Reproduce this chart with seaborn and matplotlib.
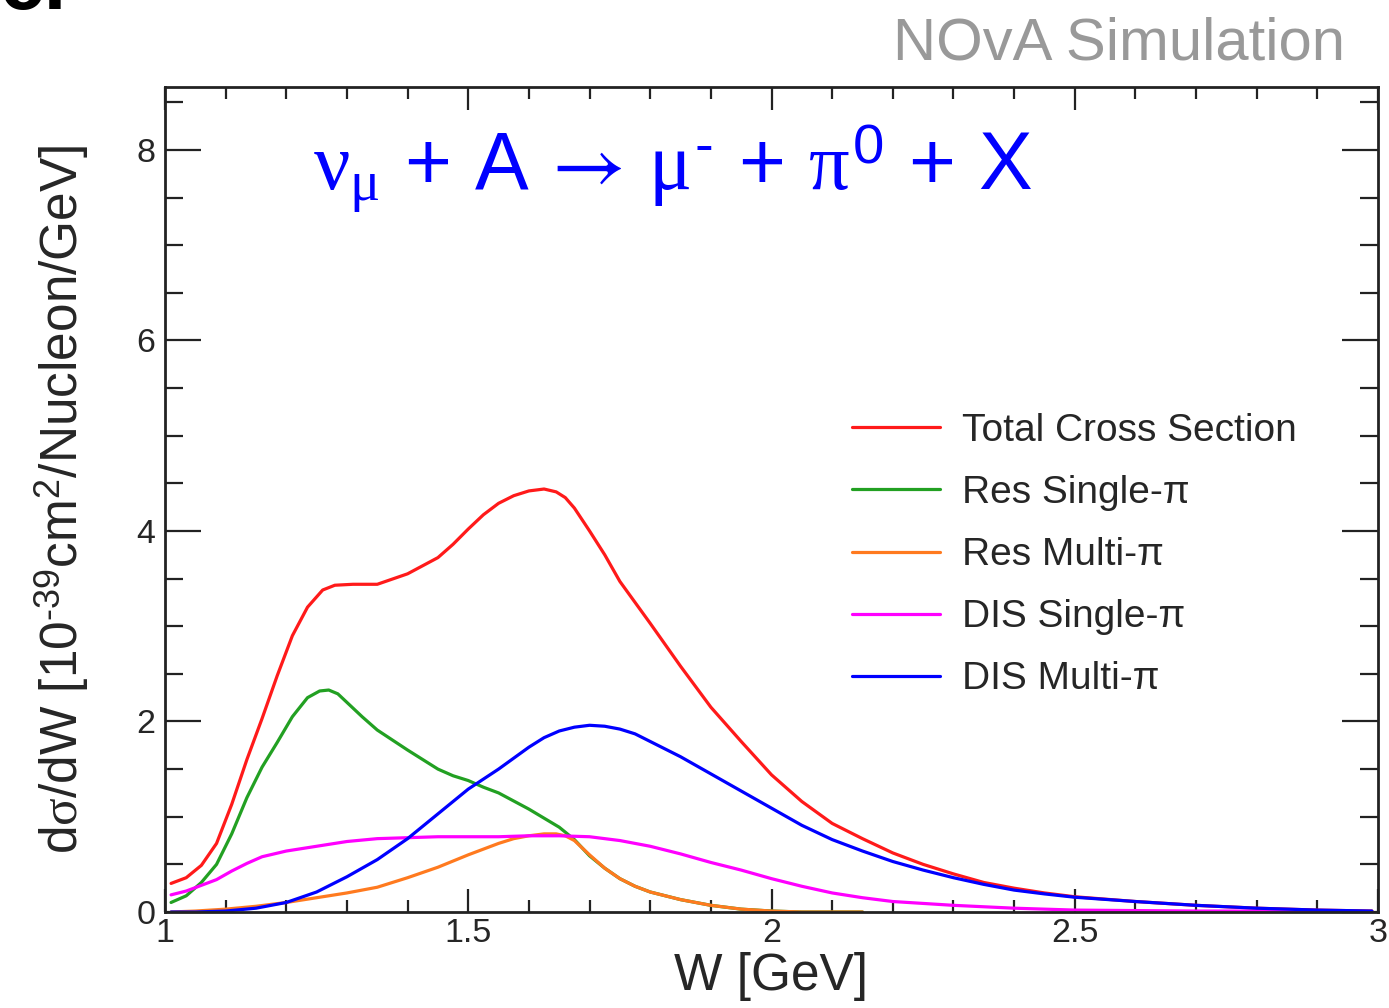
import matplotlib
matplotlib.use("Agg")
import matplotlib.pyplot as plt
import seaborn as sns
import pandas as pd
from matplotlib.ticker import MultipleLocator, FuncFormatter

# ---------------- data ----------------
W_TOTAL = [1.01, 1.035, 1.06, 1.085, 1.11, 1.135, 1.16, 1.185, 1.21, 1.235, 1.26, 1.28, 1.31,
           1.35, 1.40, 1.45, 1.475, 1.50, 1.525, 1.55, 1.575, 1.60, 1.625, 1.645, 1.66, 1.675,
           1.70, 1.725, 1.75, 1.80, 1.85, 1.90, 1.95, 2.00, 2.05, 2.10, 2.15, 2.20, 2.25,
           2.30, 2.35, 2.40, 2.45, 2.50, 2.60, 2.70, 2.80, 2.90, 2.99]
total = [0.30, 0.36, 0.49, 0.72, 1.13, 1.60, 2.03, 2.48, 2.90, 3.20, 3.38, 3.43, 3.44,
         3.44, 3.55, 3.72, 3.86, 4.02, 4.17, 4.29, 4.37, 4.42, 4.44, 4.41, 4.35, 4.24,
         4.00, 3.75, 3.47, 3.03, 2.58, 2.15, 1.79, 1.44, 1.16, 0.93, 0.77, 0.62, 0.50,
         0.40, 0.31, 0.25, 0.20, 0.16, 0.11, 0.07, 0.04, 0.02, 0.01]

W_RES_SINGLE = [1.01, 1.035, 1.06, 1.085, 1.11, 1.135, 1.16, 1.185, 1.21, 1.235, 1.255, 1.27,
                1.285, 1.30, 1.325, 1.35, 1.40, 1.45, 1.475, 1.50, 1.525, 1.55, 1.60, 1.65,
                1.675, 1.70, 1.725, 1.75, 1.775, 1.80, 1.85, 1.90, 1.95, 2.00, 2.05, 2.10, 2.15]
res_single = [0.10, 0.17, 0.31, 0.50, 0.82, 1.20, 1.52, 1.78, 2.05, 2.25, 2.32, 2.33,
              2.29, 2.20, 2.05, 1.91, 1.70, 1.50, 1.43, 1.38, 1.31, 1.25, 1.08, 0.89,
              0.76, 0.59, 0.46, 0.35, 0.27, 0.21, 0.13, 0.07, 0.03, 0.01, 0.0, 0.0, 0.0]

W_RES_MULTI = [1.01, 1.05, 1.10, 1.15, 1.20, 1.25, 1.30, 1.35, 1.40, 1.45, 1.50, 1.525, 1.55,
               1.575, 1.60, 1.625, 1.645, 1.66, 1.675, 1.70, 1.725, 1.75, 1.775, 1.80, 1.85,
               1.90, 1.95, 2.00, 2.05, 2.10, 2.15]
res_multi = [0.0, 0.01, 0.03, 0.06, 0.10, 0.15, 0.20, 0.26, 0.36, 0.47, 0.60, 0.66, 0.72,
             0.77, 0.80, 0.82, 0.82, 0.80, 0.75, 0.60, 0.46, 0.35, 0.27, 0.21, 0.13,
             0.07, 0.03, 0.01, 0.0, 0.0, 0.0]

W_DIS_SINGLE = [1.01, 1.035, 1.06, 1.085, 1.11, 1.135, 1.16, 1.20, 1.25, 1.30, 1.35, 1.40,
                1.45, 1.50, 1.55, 1.60, 1.65, 1.70, 1.75, 1.80, 1.85, 1.90, 1.95, 2.00, 2.05,
                2.10, 2.15, 2.20, 2.25, 2.30, 2.40, 2.50, 2.60, 2.70, 2.80, 2.90, 2.99]
dis_single = [0.18, 0.22, 0.28, 0.34, 0.43, 0.51, 0.58, 0.64, 0.69, 0.74, 0.77, 0.78,
              0.79, 0.79, 0.79, 0.80, 0.80, 0.79, 0.75, 0.69, 0.61, 0.52, 0.44, 0.35, 0.27,
              0.20, 0.15, 0.11, 0.09, 0.07, 0.04, 0.02, 0.015, 0.01, 0.01, 0.005, 0.0]

W_DIS_MULTI = [1.01, 1.05, 1.10, 1.15, 1.20, 1.25, 1.30, 1.35, 1.40, 1.45, 1.50, 1.55, 1.60,
               1.625, 1.65, 1.675, 1.70, 1.725, 1.75, 1.775, 1.80, 1.85, 1.90, 1.95, 2.00,
               2.05, 2.10, 2.15, 2.20, 2.25, 2.30, 2.35, 2.40, 2.45, 2.50, 2.60, 2.70, 2.80,
               2.90, 2.99]
dis_multi = [0.0, 0.0, 0.01, 0.04, 0.10, 0.21, 0.37, 0.55, 0.77, 1.03, 1.29, 1.50, 1.73,
             1.83, 1.90, 1.94, 1.96, 1.95, 1.92, 1.87, 1.79, 1.63, 1.45, 1.27, 1.09,
             0.91, 0.76, 0.64, 0.53, 0.44, 0.36, 0.29, 0.23, 0.19, 0.155, 0.11, 0.07, 0.04,
             0.02, 0.01]

SERIES = ["Total Cross Section", "Res Single-π", "Res Multi-π", "DIS Single-π", "DIS Multi-π"]
COLORS = ["#ff1a1a", "#22a022", "#ff7a1f", "#ff00ff", "#0000ff"]
X_TICKS = [1, 1.5, 2, 2.5, 3]
Y_TICKS = [0, 2, 4, 6, 8]

frames = []
for name, xs, ys in zip(SERIES,
                        [W_TOTAL, W_RES_SINGLE, W_RES_MULTI, W_DIS_SINGLE, W_DIS_MULTI],
                        [total, res_single, res_multi, dis_single, dis_multi]):
    frames.append(pd.DataFrame({"W": xs, "xsec": ys, "series": name}))
df = pd.concat(frames, ignore_index=True)

# ---------------- style ----------------
sns.set_theme(style="ticks")
plt.rcParams["font.family"] = ["Liberation Sans", "DejaVu Sans"]
plt.rcParams["mathtext.fontset"] = "custom"
plt.rcParams["mathtext.rm"] = "Liberation Sans"
plt.rcParams["mathtext.it"] = "Liberation Serif"
plt.rcParams["mathtext.bf"] = "Liberation Sans:bold"
plt.rcParams["mathtext.sf"] = "Liberation Sans"
plt.rcParams["mathtext.cal"] = "STIXGeneral"

fig = plt.figure(figsize=(13.89, 10.08), dpi=100)
ax = fig.add_axes([165 / 1389, 1 - 912 / 1008, (1378 - 165) / 1389, (912 - 87) / 1008])

sns.lineplot(data=df, x="W", y="xsec", hue="series", hue_order=SERIES,
             palette=dict(zip(SERIES, COLORS)), linewidth=2.3, ax=ax,
             estimator=None, sort=True)
for ln in ax.get_lines():
    ln.set_solid_joinstyle("round")

ax.set_xlim(1, 3)
ax.set_ylim(0, 8.66)
ax.set_xticks(X_TICKS)
ax.set_yticks(Y_TICKS)
ax.xaxis.set_minor_locator(MultipleLocator(0.1))
ax.yaxis.set_minor_locator(MultipleLocator(0.5))
ax.xaxis.set_major_formatter(FuncFormatter(lambda v, p: f"{v:g}"))
ax.yaxis.set_major_formatter(FuncFormatter(lambda v, p: f"{v:g}"))

for s in ax.spines.values():
    s.set_linewidth(2.0)
    s.set_color("#222222")
    s.set_visible(True)

ax.tick_params(which="both", direction="in", top=True, right=True, color="#222222", width=1.6)
ax.tick_params(axis="x", which="major", length=16.5, pad=4.5, labelsize=24.5)
ax.tick_params(axis="x", which="minor", length=8.6)
ax.tick_params(axis="y", which="major", length=26, pad=7, labelsize=24.5)
ax.tick_params(axis="y", which="minor", length=13)

ax.set_xlabel("W [GeV]", fontsize=37)
ax.xaxis.set_label_coords(0.5, -0.048)
ax.set_ylabel(r"d$\sigma$/dW [10$^{\text{-}39}$cm$^{2}$/Nucleon/GeV]", fontsize=37)
ax.yaxis.set_label_coords(-0.061, 0.5)

# legend
leg = ax.legend(loc="upper left", bbox_to_anchor=((852 - 165) / 1213, (912 - 413) / 825),
                frameon=False, fontsize=28, handlelength=2.27, handletextpad=0.57,
                labelspacing=0.67, borderpad=0, borderaxespad=0)
for line in leg.get_lines():
    line.set_linewidth(2.3)

# reaction label
ax.text((313 - 165) / 1213, (912 - 190) / 825,
        r"$\nu_{\mu}\,+\,\mathrm{A}\,\mathcal{\rightarrow}\,\mu^{\text{-}}\,+\,\pi^{0}\,+\,\mathrm{X}$",
        color="#0000ff", fontsize=58, ha="left", va="baseline", transform=ax.transAxes)

# header texts
fig.text(1345 / 1389, 1 - 60 / 1008, "NOvA Simulation", color="#999999", fontsize=43,
         ha="right", va="baseline")
fig.text(0.0, 1 - 9 / 1008, "c.", color="black", fontsize=58, fontweight="bold",
         ha="left", va="baseline")

fig.savefig("out.png", dpi=100)
